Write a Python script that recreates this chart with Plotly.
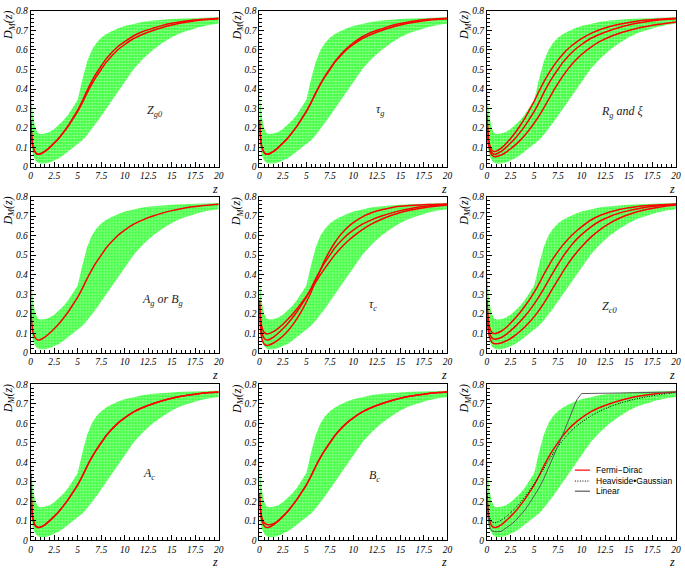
import plotly.graph_objects as go
from plotly.subplots import make_subplots

# redshift grid
Z = [0, 0.1, 0.25, 0.5, 0.75, 1, 1.5, 2, 2.5, 3, 3.5, 4, 4.5, 5, 5.5, 6, 6.5, 7,
     7.5, 8, 8.5, 9, 9.5, 10, 11, 12, 13, 14, 15, 16, 17, 18, 19, 20]

# green allowed band
BAND_LO = [0.12, 0.09, 0.06, 0.035, 0.022, 0.018, 0.018, 0.024, 0.033, 0.045, 0.062, 0.08,
           0.098, 0.118, 0.138, 0.165, 0.195, 0.228, 0.262, 0.297, 0.333, 0.37, 0.405, 0.44,
           0.505, 0.557, 0.6, 0.635, 0.665, 0.688, 0.705, 0.718, 0.728, 0.735]
BAND_HI = [0.42, 0.34, 0.26, 0.2, 0.175, 0.17, 0.172, 0.18, 0.195, 0.215, 0.24, 0.27,
           0.305, 0.345, 0.45, 0.54, 0.6, 0.637, 0.662, 0.68, 0.693, 0.705, 0.715, 0.723,
           0.735, 0.745, 0.751, 0.755, 0.758, 0.761, 0.763, 0.765, 0.766, 0.767]

# fiducial Fermi-Dirac curve
FD = [0.24, 0.16, 0.105, 0.075, 0.066, 0.067, 0.08, 0.1, 0.123, 0.148, 0.178, 0.21,
      0.247, 0.285, 0.33, 0.38, 0.425, 0.465, 0.5, 0.535, 0.563, 0.588, 0.61, 0.628,
      0.66, 0.682, 0.7, 0.715, 0.728, 0.738, 0.746, 0.752, 0.757, 0.76]

ZG0_ALT = [0.24, 0.16, 0.105, 0.075, 0.066, 0.067, 0.08, 0.1, 0.123, 0.149, 0.18, 0.213,
           0.252, 0.292, 0.34, 0.392, 0.44, 0.482, 0.518, 0.553, 0.581, 0.605, 0.626, 0.643,
           0.674, 0.696, 0.711, 0.726, 0.737, 0.745, 0.751, 0.756, 0.759, 0.762]
TAUG_ALT = [0.24, 0.16, 0.105, 0.075, 0.066, 0.067, 0.08, 0.1, 0.123, 0.148, 0.178, 0.21,
            0.247, 0.285, 0.33, 0.38, 0.426, 0.467, 0.503, 0.539, 0.568, 0.594, 0.617, 0.636,
            0.669, 0.692, 0.708, 0.724, 0.736, 0.745, 0.752, 0.757, 0.76, 0.762]

RG_HI = [0.27, 0.18, 0.12, 0.087, 0.08, 0.082, 0.097, 0.12, 0.147, 0.177, 0.212, 0.25,
         0.293, 0.338, 0.388, 0.435, 0.477, 0.515, 0.548, 0.577, 0.602, 0.624, 0.642, 0.658,
         0.685, 0.705, 0.72, 0.732, 0.741, 0.748, 0.753, 0.757, 0.76, 0.762]
RG_LO = [0.25, 0.15, 0.095, 0.062, 0.054, 0.054, 0.062, 0.076, 0.094, 0.114, 0.137, 0.163,
         0.193, 0.226, 0.262, 0.302, 0.345, 0.388, 0.428, 0.465, 0.498, 0.528, 0.554, 0.577,
         0.615, 0.645, 0.668, 0.686, 0.7, 0.712, 0.722, 0.73, 0.737, 0.743]

TAUC_FLAT = [0.27, 0.19, 0.135, 0.105, 0.097, 0.098, 0.108, 0.125, 0.146, 0.17, 0.196, 0.225,
             0.257, 0.29, 0.325, 0.362, 0.4, 0.435, 0.468, 0.5, 0.528, 0.553, 0.576, 0.596,
             0.632, 0.661, 0.684, 0.703, 0.718, 0.73, 0.739, 0.746, 0.752, 0.757]
TAUC_STEEP = [0.27, 0.14, 0.075, 0.045, 0.038, 0.039, 0.05, 0.066, 0.086, 0.11, 0.14, 0.175,
              0.215, 0.26, 0.31, 0.368, 0.425, 0.478, 0.523, 0.562, 0.596, 0.624, 0.647, 0.666,
              0.697, 0.718, 0.732, 0.743, 0.75, 0.754, 0.757, 0.759, 0.76, 0.761]

ZC0_HI = [0.27, 0.19, 0.135, 0.105, 0.098, 0.1, 0.11, 0.128, 0.152, 0.178, 0.206, 0.238,
          0.272, 0.31, 0.353, 0.4, 0.443, 0.483, 0.518, 0.55, 0.578, 0.603, 0.625, 0.645,
          0.68, 0.704, 0.721, 0.734, 0.743, 0.749, 0.754, 0.757, 0.759, 0.761]
ZC0_MID = [0.26, 0.16, 0.105, 0.077, 0.07, 0.07, 0.078, 0.093, 0.113, 0.135, 0.16, 0.187,
           0.217, 0.25, 0.287, 0.327, 0.37, 0.412, 0.452, 0.49, 0.524, 0.555, 0.582, 0.605,
           0.645, 0.676, 0.698, 0.715, 0.728, 0.738, 0.746, 0.752, 0.757, 0.76]
ZC0_LO = [0.25, 0.14, 0.085, 0.055, 0.047, 0.046, 0.05, 0.06, 0.073, 0.09, 0.11, 0.132,
          0.157, 0.185, 0.217, 0.253, 0.292, 0.333, 0.373, 0.413, 0.45, 0.484, 0.515, 0.543,
          0.592, 0.632, 0.664, 0.689, 0.708, 0.723, 0.735, 0.744, 0.751, 0.757]

AC_ALT = [0.34, 0.2, 0.11, 0.075, 0.067, 0.068, 0.08, 0.1, 0.123, 0.148, 0.178, 0.21,
          0.247, 0.285, 0.33, 0.38, 0.425, 0.465, 0.5, 0.535, 0.563, 0.588, 0.61, 0.628,
          0.66, 0.682, 0.7, 0.715, 0.728, 0.738, 0.746, 0.752, 0.757, 0.76]
BC_ALT = [0.24, 0.17, 0.12, 0.09, 0.083, 0.08, 0.085, 0.1, 0.123, 0.148, 0.178, 0.21,
          0.247, 0.285, 0.33, 0.38, 0.425, 0.465, 0.5, 0.535, 0.563, 0.588, 0.61, 0.628,
          0.66, 0.682, 0.7, 0.715, 0.728, 0.738, 0.746, 0.752, 0.757, 0.76]

HEAVI_GAUSS = [0.24, 0.17, 0.12, 0.095, 0.09, 0.092, 0.103, 0.12, 0.142, 0.165, 0.192, 0.222,
               0.255, 0.29, 0.328, 0.368, 0.408, 0.445, 0.48, 0.512, 0.54, 0.565, 0.587, 0.605,
               0.638, 0.664, 0.685, 0.702, 0.716, 0.727, 0.737, 0.745, 0.752, 0.758]
LINEAR = [0.22, 0.13, 0.075, 0.05, 0.045, 0.044, 0.046, 0.062, 0.08, 0.1, 0.125, 0.155,
          0.19, 0.228, 0.268, 0.315, 0.37, 0.425, 0.48, 0.54, 0.6, 0.66, 0.72, 0.752,
          0.752, 0.753, 0.754, 0.755, 0.756, 0.757, 0.758, 0.758, 0.759, 0.76]

# (row, col, label, label z, label y, red curves)
panels = [
    (1, 1, "Z<sub>g0</sub>", 12.2, 0.285, [FD, ZG0_ALT]),
    (1, 2, "τ<sub>g</sub>", 12.2, 0.29, [FD, TAUG_ALT]),
    (1, 3, "R<sub>g</sub> and ξ", 11.8, 0.28, [RG_HI, FD, RG_LO]),
    (2, 1, "A<sub>g</sub> or B<sub>g</sub>", 11.6, 0.27, [FD]),
    (2, 2, "τ<sub>c</sub>", 11.4, 0.245, [TAUC_FLAT, FD, TAUC_STEEP]),
    (2, 3, "Z<sub>c0</sub>", 12.0, 0.235, [ZC0_HI, ZC0_MID, ZC0_LO]),
    (3, 1, "A<sub>c</sub>", 11.7, 0.34, [FD, AC_ALT]),
    (3, 2, "B<sub>c</sub>", 11.4, 0.33, [FD, BC_ALT]),
    (3, 3, None, 0, 0, []),
]

DOTS = "1px,1.5px"

# legend of the last panel: (name, colour, dash, y in panel)
legend_items = [
    ("Fermi−Dirac", "rgb(255,0,0)", "solid", 0.45),
    ("Heaviside•Gaussian", "black", DOTS, 0.38),
    ("Linear", "rgb(90,90,90)", "solid", 0.315),
]

col_dom = [[0.0423, 0.3197], [0.3796, 0.6569], [0.7153, 0.9942]]
row_dom = [[0.7095, 0.9894], [0.3768, 0.6567], [0.0405, 0.3204]]

SERIF = "Liberation Serif"
RED = "rgb(255,0,0)"
GREEN = "rgb(30,255,30)"
BAND_PATTERN = dict(shape=".", fgcolor="white", bgcolor=GREEN, size=3, solidity=0.6)

fig = make_subplots(rows=3, cols=3)

for r, c, label, lx, ly, curves in panels:
    fig.add_trace(go.Scatter(
        x=Z + Z[::-1], y=BAND_LO + BAND_HI[::-1],
        mode="lines", fill="toself", line=dict(width=0),
        fillcolor=GREEN, fillpattern=BAND_PATTERN,
        hoverinfo="skip", showlegend=False
    ), row=r, col=c)
    for ys in curves:
        fig.add_trace(go.Scatter(
            x=Z, y=ys, mode="lines", line=dict(color=RED, width=1.5, shape="spline", smoothing=0.4),
            showlegend=False
        ), row=r, col=c)
    if label:
        fig.add_annotation(x=lx, y=ly, text="<i>" + label + "</i>", showarrow=False,
                           xanchor="left", font=dict(family=SERIF, size=12, color="#222"),
                           row=r, col=c)

# last panel: reionisation models
fig.add_trace(go.Scatter(x=Z, y=FD, mode="lines", name="Fermi−Dirac", showlegend=False,
                         line=dict(color=RED, width=1.5, shape="spline", smoothing=0.4)),
              row=3, col=3)
fig.add_trace(go.Scatter(x=Z, y=HEAVI_GAUSS, mode="lines", name="Heaviside•Gaussian", showlegend=False,
                         line=dict(color="black", width=1, dash=DOTS, shape="spline", smoothing=0.4)),
              row=3, col=3)
fig.add_trace(go.Scatter(x=Z, y=LINEAR, mode="lines", name="Linear", showlegend=False,
                         line=dict(color="rgb(90,90,90)", width=1)),
              row=3, col=3)

# hand-made compact legend (ROOT style)
for name, color, dash, ly in legend_items:
    fig.add_shape(type="line", xref="x9 domain", yref="y9 domain",
                  x0=0.465, x1=0.545, y0=ly, y1=ly,
                  line=dict(color=color, width=1.2 if dash == "solid" else 1, dash=dash))
    fig.add_annotation(xref="x9 domain", yref="y9 domain", x=0.565, y=ly,
                       xanchor="left", yanchor="middle", text=name, showarrow=False,
                       font=dict(family="Liberation Sans", size=8.5, color="black"))

for i in range(9):
    r, c = i // 3, i % 3
    sfx = "" if i == 0 else str(i + 1)
    fig.layout["xaxis" + sfx].update(
        domain=col_dom[c], range=[0, 20], dtick=2.5, tick0=0,
        showgrid=False, zeroline=False, showline=True, mirror=True,
        linecolor="black", linewidth=1, ticks="inside", ticklen=5, tickcolor="black",
        minor=dict(ticks="inside", ticklen=3, dtick=0.5, tickcolor="black", showgrid=False),
        tickfont=dict(family=SERIF, size=9.5, style="italic", color="black"),
    )
    fig.layout["yaxis" + sfx].update(
        domain=row_dom[r], range=[0, 0.8], dtick=0.1, tick0=0,
        showgrid=False, zeroline=False, showline=True, mirror=True,
        linecolor="black", linewidth=1, ticks="inside", ticklen=5, tickcolor="black",
        minor=dict(ticks="inside", ticklen=3, dtick=0.02, tickcolor="black", showgrid=False),
        tickfont=dict(family=SERIF, size=9.5, style="italic", color="black"),
    )
    fig.add_annotation(xref="x" + sfx + " domain", yref="y" + sfx + " domain",
                       x=-0.115, y=1.01, xanchor="center", yanchor="top", textangle=-90,
                       text="<i>D<sub>M</sub>(z)</i>", showarrow=False,
                       font=dict(family=SERIF, size=12, color="black"))
    fig.add_annotation(xref="x" + sfx + " domain", yref="y" + sfx + " domain",
                       x=0.98, y=-0.14, xanchor="center", yanchor="middle",
                       text="<i>z</i>", showarrow=False,
                       font=dict(family=SERIF, size=12, color="black"))

fig.update_layout(
    width=685, height=568,
    margin=dict(l=0, r=0, t=0, b=0),
    plot_bgcolor="white", paper_bgcolor="white",
    showlegend=False,
)

fig.write_html("out.html", config={"displayModeBar": False},
               post_script="document.body.style.margin='0';")
